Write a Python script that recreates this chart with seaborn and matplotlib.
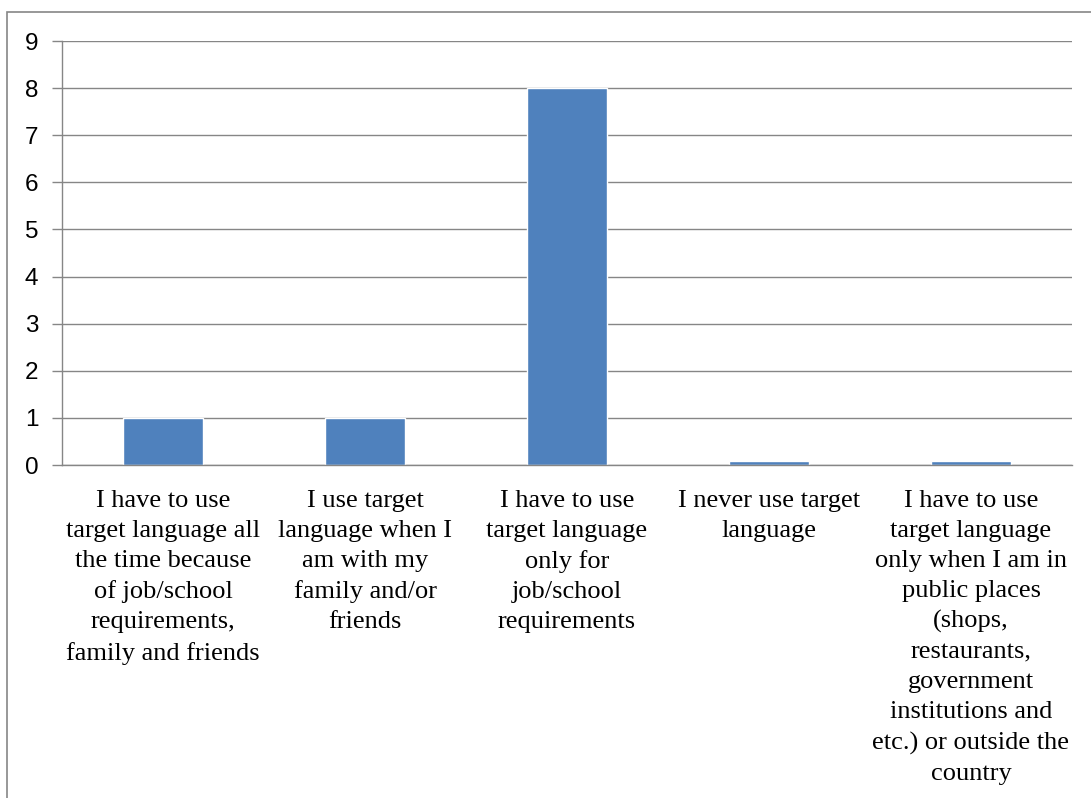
import matplotlib
matplotlib.use("Agg")
import matplotlib.pyplot as plt
from matplotlib.patches import Rectangle
import seaborn as sns
import pandas as pd

categories = [
    "I have to use\ntarget language all\nthe time because\nof job/school\nrequirements,\nfamily and friends",
    "I use target\nlanguage when I\nam with my\nfamily and/or\nfriends",
    "I have to use\ntarget language\nonly for\njob/school\nrequirements",
    "I never use target\nlanguage",
    "I have to use\ntarget language\nonly when I am in\npublic places\n(shops,\nrestaurants,\ngovernment\ninstitutions and\netc.) or outside the\ncountry",
]
values = [1, 1, 8, 0.08, 0.08]
yticks = list(range(0, 10))

sns.set_theme(style="white")
plt.rcParams['font.family'] = ['Liberation Sans', 'DejaVu Sans']

df = pd.DataFrame({"cat": categories, "val": values})

fig = plt.figure(figsize=(10.91, 7.98), dpi=100)
ax = fig.add_axes([62/1091, 1-465/798, (1072-62)/1091, (465-41)/798])

sns.barplot(data=df, x="cat", y="val", order=categories, color="#4F81BD",
            saturation=1, width=0.4, ax=ax)

grid_c = "#868686"
ax.set_xlim(-0.5, len(categories) - 0.5)
ax.set_ylim(0, 9)
ax.set_yticks(yticks)
ax.set_yticklabels([str(t) for t in yticks], fontsize=17.5, color="black")
ax.yaxis.grid(True, color=grid_c, linewidth=1)
ax.set_axisbelow(True)
ax.set_xlabel("")
ax.set_ylabel("")

ax.set_xticks(range(len(categories)))
ax.set_xticklabels(categories, fontsize=19, family="Liberation Serif",
                   color="black", linespacing=1.47, va="top")
ax.set_xticks([i - 0.5 for i in range(len(categories) + 1)], minor=True)
ax.tick_params(axis="x", which="major", length=0, pad=18)
ax.tick_params(axis="x", which="minor", length=7, color=grid_c, width=1, direction="out")
ax.tick_params(axis="y", which="major", length=7, color=grid_c, width=1, direction="out", pad=10, left=True)

for s in ["top", "right"]:
    ax.spines[s].set_visible(False)
for s in ["left", "bottom"]:
    ax.spines[s].set_visible(True)
    ax.spines[s].set_color(grid_c)
    ax.spines[s].set_linewidth(1)

fig.patches.append(Rectangle((7/1091, -0.02), 1.0, 1 - 12/798 + 0.02,
                             transform=fig.transFigure, fill=False,
                             edgecolor=grid_c, linewidth=1.2))

fig.savefig("out.png", dpi=100, facecolor="white")
